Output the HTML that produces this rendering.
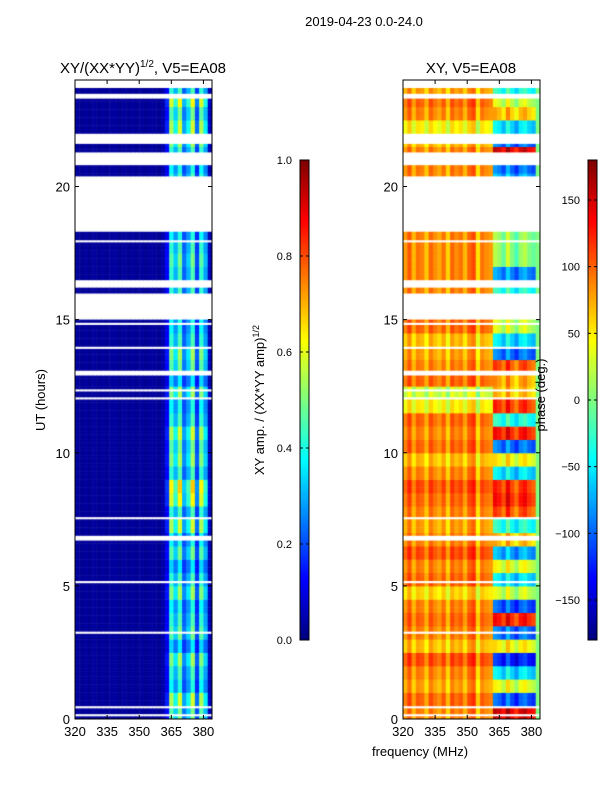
<!DOCTYPE html>
<html><head><meta charset="utf-8"><style>
body{margin:0;background:#fff;width:600px;height:800px;overflow:hidden;font-family:"Liberation Sans",sans-serif}
#root{position:relative;width:600px;height:800px}
canvas{position:absolute}
svg{position:absolute;left:0;top:0}
</style></head><body><div id="root">
<canvas id="c1" width="137" height="639" style="left:75px;top:80px"></canvas>
<canvas id="c2" width="137" height="639" style="left:403px;top:80px"></canvas>
<canvas id="cb1" width="9" height="480" style="left:300px;top:160px"></canvas>
<canvas id="cb2" width="9" height="480" style="left:588px;top:160px"></canvas>
<svg id="s" width="600" height="800" font-family="Liberation Sans, sans-serif"></svg>
</div>
<script>
// channel start frequencies (MHz), 2 MHz wide
const freqs=[320,322,324,326,328,330,332,334,336,338,340,342,344,346,348,350,352,354,356,358,360,362,364,366,368,370,372,374,376,378,380,382];
const ampProfile=[0.03,0.02,0.03,0.02,0.03,0.02,0.03,0.02,0.03,0.03,0.02,0.03,0.02,0.03,0.02,0.03,0.02,0.03,0.03,0.02,0.04,0.12,0.42,0.3,0.45,0.22,0.3,0.45,0.18,0.42,0.28,0.05];
const phaseProfile=[80,105,70,95,90,65,100,85,75,95,60,100,85,95,70,100,110,55,95,85,80,20,10,-10,30,0,-20,10,20,0,-10,0];
// per half-hour rows (0..24 h)
const rowAmp=[1.1,1.3,0.9,1.0,1.2,0.8,1.1,1.0,0.9,1.2,1.0,0.8,1.1,0.9,1.3,1.0,1.4,1.5,1.0,1.2,1.1,1.3,1.0,0.9,1.2,0.8,1.1,1.2,1.0,0.9,1.1,1.0,1.0,1.0,1.1,1.0,0.9,0.8,1.0,1.1,1.0,0.9,1.0,1.2,1.3,1.1,1.4,1.0];
const rowPhaseL=[0,10,-10,0,20,-20,0,10,0,-30,10,0,20,0,-10,0,10,20,0,-20,10,0,10,-40,-60,10,0,-10,-20,10,0,0,0,0,0,0,0,20,10,-30,0,0,0,-20,-40,0,10,-10];
const rowPhaseR=[140,-110,30,-60,-130,40,-100,120,-110,20,-60,30,-80,60,-40,100,120,110,-60,40,-100,120,-40,110,60,70,100,-100,-60,20,-100,60,-40,-90,0,0,0,120,-130,40,-80,-100,140,-100,-60,60,20,-40];
// flagged time intervals (hours)
const flagStart=[23.75,23.3,22.8,22.4,21.6,20.85,20.6,18.3,18.1,17.95,17.7,17.4,17.2,17.0,16.9,16.6,16.2,15.0,14.85,14.3,13.9,12.9,12.5,12.35,12.05,11.3,10.9,9.6,8.5,8.3,8.1,7.7,7.55,6.7,5.15,4.4,3.6,3.5,3.25,2.6,2.2,0.8,0.45,0.15];
const flagEnd=[24.0,23.5,22.85,22.45,22.0,21.35,20.65,20.45,18.15,18.0,17.75,17.45,17.25,17.05,16.95,16.65,16.5,16.0,14.9,14.35,14.0,13.1,12.55,12.4,12.1,11.35,10.95,9.65,8.55,8.35,8.15,7.75,7.6,6.9,5.2,4.45,3.65,3.55,3.3,2.65,2.25,0.85,0.5,0.2];
const xTicks=[320,335,350,365,380];
const yTicks=[0,5,10,15,20];
const ampTicks=[0.0,0.2,0.4,0.6,0.8,1.0];
const phaseTicks=[-150,-100,-50,0,50,100,150];

const X0=320,X1=384,H=639,W=137;
const xs=f=>(f-X0)/(X1-X0)*W;
const ys=h=>H-h/24*H;
function jet(v){v=Math.max(0,Math.min(1,v));
 const r=Math.max(0,Math.min(1,1.5-Math.abs(4*v-3))),g=Math.max(0,Math.min(1,1.5-Math.abs(4*v-2))),b=Math.max(0,Math.min(1,1.5-Math.abs(4*v-1)));
 return `rgb(${r*255|0},${g*255|0},${b*255|0})`;}
function flagged(h){for(let i=0;i<flagStart.length;i++)if(h>=flagStart[i]&&h<flagEnd[i])return true;return false;}
const ctx1=document.getElementById('c1').getContext('2d');
const ctx2=document.getElementById('c2').getContext('2d');
for(let k=0;k<240;k++){const h=k*0.1;if(flagged(h+0.05))continue;
 const r=Math.min(rowAmp.length-1,Math.floor(h/0.5));
 const y0=ys(h+0.1),y1=ys(h);
 for(let c=0;c<freqs.length;c++){
  const xa=xs(freqs[c]),xb=xs(freqs[c]+2);
  let a=ampProfile[c]*(c>20?rowAmp[r]:1);
  ctx1.fillStyle=jet(a);ctx1.fillRect(xa,y0,xb-xa+0.5,y1-y0+0.5);
  let p;
  if(c<=20)p=phaseProfile[c]+rowPhaseL[r];
  else if(c<31)p=phaseProfile[c]+rowPhaseR[r];
  else p=phaseProfile[c];
  p=((p+180)%360+360)%360-180;
  ctx2.fillStyle=jet((p+180)/360);ctx2.fillRect(xa,y0,xb-xa+0.5,y1-y0+0.5);
 }}
for(const id of ['cb1','cb2']){const cx=document.getElementById(id).getContext('2d');
 for(let i=0;i<480;i++){cx.fillStyle=jet(1-i/479);cx.fillRect(0,i,9,1);}}

const s=document.getElementById('s');const NS='http://www.w3.org/2000/svg';
function el(t,a,txt){const e=document.createElementNS(NS,t);for(const k in a)e.setAttribute(k,a[k]);if(txt!==undefined)e.textContent=txt;s.appendChild(e);return e;}
for(const ox of [75,403]){
 const f=el('rect',{x:ox,y:80,width:W,height:H,fill:'none',stroke:'#000','stroke-width':1});
 
 
 for(const t of xTicks){const x=ox+xs(t);
  el('line',{x1:x,x2:x,y1:719,y2:715,stroke:'#000'});el('line',{x1:x,x2:x,y1:80,y2:84,stroke:'#000'});
  const l=el('text',{x:x,y:736,'font-size':13,'text-anchor':'middle'},String(t));
  
  }
 for(const t of yTicks){const y=80+ys(t);
  el('line',{x1:ox,x2:ox+4,y1:y,y2:y,stroke:'#000'});el('line',{x1:ox+W,x2:ox+W-4,y1:y,y2:y,stroke:'#000'});
  const l=el('text',{x:ox-5,y:y+5,'font-size':13,'text-anchor':'end'},String(t));
  
  }
}
for(const [ox,ticks,lo,hi,fmt] of [[300,ampTicks,0,1,v=>v.toFixed(1)],[588,phaseTicks,-180,180,v=>v<0?'\u2212'+(-v):String(v)]]){
 el('rect',{x:ox,y:160,width:9,height:480,fill:'none',stroke:'#000'});
 for(const t of ticks){const y=640-(t-lo)/(hi-lo)*480;
  el('line',{x1:ox,x2:ox+3,y1:y,y2:y,stroke:'#000'});el('line',{x1:ox+9,x2:ox+6,y1:y,y2:y,stroke:'#000'});
  const l=el('text',{x:ox-8,y:y+4,'font-size':11,'text-anchor':'end'},fmt(t));
  
  }
}
function txt(name,a,t){const e=el('text',a,t);return e;}
txt('figure-title',{x:364,y:26,'font-size':13,'text-anchor':'middle'},'2019-04-23 0.0-24.0');
const t1=txt('left-title',{x:143,y:73,'font-size':15,'text-anchor':'middle'},'XY/(XX*YY)');
const sp=document.createElementNS(NS,'tspan');sp.setAttribute('dy',-6);sp.setAttribute('font-size',10);sp.textContent='1/2';t1.appendChild(sp);
const sp2=document.createElementNS(NS,'tspan');sp2.setAttribute('dy',6);sp2.textContent=', V5=EA08';t1.appendChild(sp2);
txt('right-title',{x:471,y:73,'font-size':15,'text-anchor':'middle'},'XY, V5=EA08');
txt('y-axis-title',{x:45,y:400,'font-size':13,'text-anchor':'middle',transform:'rotate(-90 45 400)'},'UT (hours)');
txt('x-axis-title',{x:420,y:756,'font-size':13,'text-anchor':'middle'},'frequency (MHz)');
const cl=txt('amp-colorbar-title',{x:264,y:400,'font-size':13,'text-anchor':'middle',transform:'rotate(-90 264 400)'},'XY amp. / (XX*YY amp)');
const sp3=document.createElementNS(NS,'tspan');sp3.setAttribute('dy',-5);sp3.setAttribute('font-size',9);sp3.textContent='1/2';cl.appendChild(sp3);
txt('phase-colorbar-title',{x:545,y:395,'font-size':13,'text-anchor':'middle',transform:'rotate(-90 545 395)'},'phase (deg.)');
</script></body></html>
